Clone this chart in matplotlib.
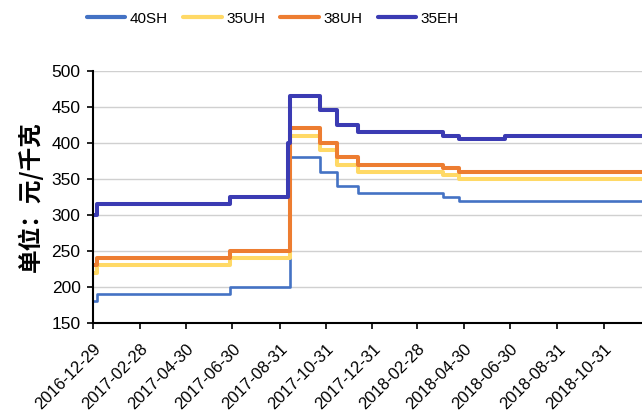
import matplotlib.pyplot as plt
import pandas as pd

plt.rcParams['font.family'] = ['Liberation Sans', 'Noto Sans CJK SC', 'DejaVu Sans']

# price change dates (step series, value holds until next date)
dates = ["2016-12-29", "2017-01-03", "2017-06-27", "2017-09-11", "2017-09-13",
         "2017-10-23", "2017-11-14", "2017-12-12", "2018-04-03", "2018-04-24",
         "2018-06-23", "2018-12-20"]
p40sh = [180, 190, 200, 200, 380, 360, 340, 330, 325, 320, 320, 320]
p35uh = [220, 230, 240, 240, 410, 390, 370, 360, 355, 350, 350, 350]
p38uh = [230, 240, 250, 250, 420, 400, 380, 370, 365, 360, 360, 360]
p35eh = [300, 315, 325, 400, 465, 445, 425, 415, 410, 405, 410, 410]

tick_labels = ["2016-12-29", "2017-02-28", "2017-04-30", "2017-06-30", "2017-08-31",
               "2017-10-31", "2017-12-31", "2018-02-28", "2018-04-30", "2018-06-30",
               "2018-08-31", "2018-10-31"]

x = pd.to_datetime(dates)

fig = plt.figure(figsize=(6.42, 4.12), dpi=100)
ax = fig.add_axes([0.145, 0.216, 0.855, 0.612])

ax.plot(x, p40sh, drawstyle='steps-post', color='#4472C4', lw=1.9, label='40SH')
ax.plot(x, p35uh, drawstyle='steps-post', color='#FFD966', lw=2.9, label='35UH')
ax.plot(x, p38uh, drawstyle='steps-post', color='#ED7D31', lw=2.9, label='38UH')
ax.plot(x, p35eh, drawstyle='steps-post', color='#3B3BB3', lw=2.9, label='35EH')

ax.set_ylim(150, 500)
ax.set_yticks(range(150, 501, 50))
ax.set_xlim(x[0], x[-1])
ax.set_xticks(pd.to_datetime(tick_labels))
ax.set_xticklabels(tick_labels, rotation=45, ha='right', rotation_mode='anchor')
ax.tick_params(axis='x', labelsize=12, length=4, width=1.2, pad=9)
ax.tick_params(axis='y', labelsize=12.5, length=4, width=1.2, pad=5)

ax.grid(axis='y', color='#D0D0D0', lw=1)
ax.set_axisbelow(True)
for side in ['top', 'right']:
    ax.spines[side].set_visible(False)
for side in ['left', 'bottom']:
    ax.spines[side].set_linewidth(1.5)

ax.set_ylabel('单位：元/千克', fontsize=17, fontweight='bold', labelpad=6,
              family=['Noto Sans CJK SC', 'DejaVu Sans'])

leg = fig.legend(loc='upper center', bbox_to_anchor=(0.425, 1.005), ncol=4, frameon=False,
                 fontsize=11, handlelength=2.5, columnspacing=1.0, handletextpad=0.3)
for line in leg.get_lines():
    line.set_linewidth(3)
    line.set_solid_capstyle('round')

fig.savefig('out.png', dpi=100)
